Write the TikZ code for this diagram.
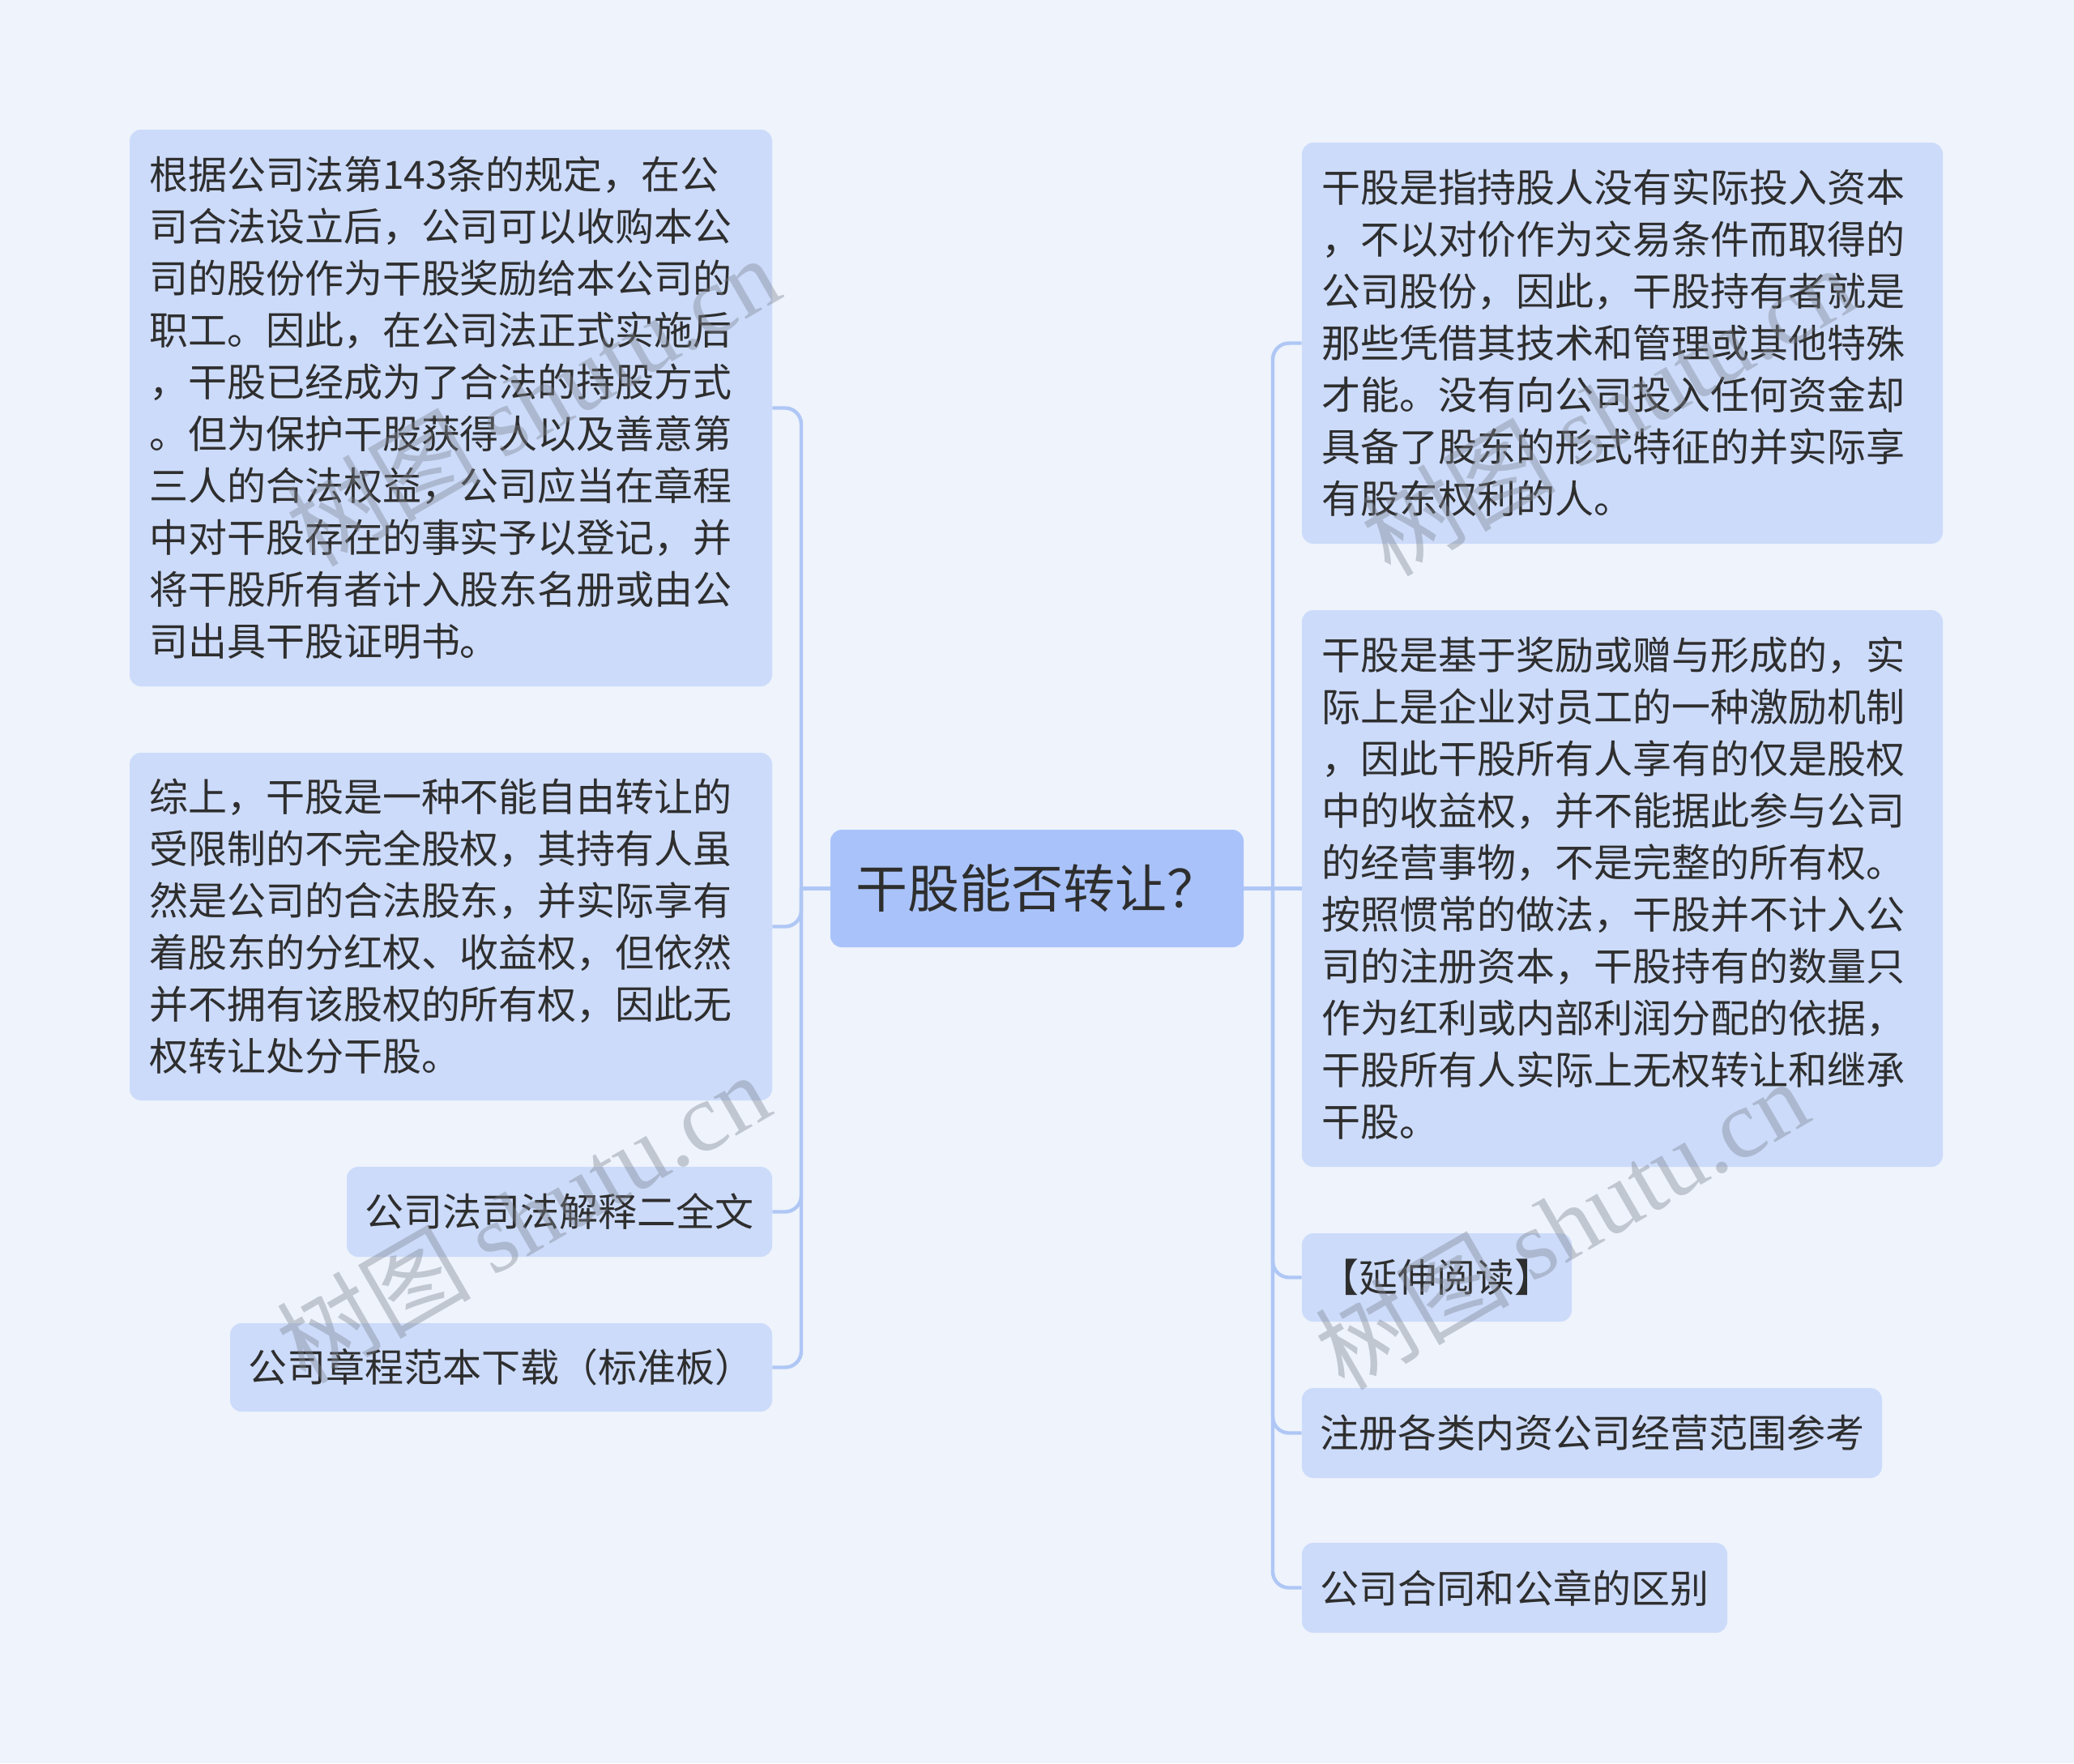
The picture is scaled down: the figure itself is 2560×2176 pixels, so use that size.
\documentclass[tikz,border=0pt]{standalone}
\usepackage{fontspec}
\setmainfont{Noto Sans CJK SC}
\newfontfamily\wmlatin{Liberation Serif}
\definecolor{bg}{HTML}{EEF3FC}
\definecolor{childfill}{HTML}{CCDBFA}
\definecolor{rootfill}{HTML}{A9C3FA}
\definecolor{linec}{HTML}{AFC7F5}
\definecolor{txt}{HTML}{2E2E2E}
\definecolor{wm}{HTML}{7E8590}
\begin{document}
\begin{tikzpicture}[x=0.5pt,y=-0.5pt,
  childbox/.style={fill=childfill, rounded corners=7pt, inner sep=0pt, text=txt,
    font=\fontsize{24pt}{32pt}\selectfont, align=left},
  rootbox/.style={fill=rootfill, rounded corners=7pt, inner sep=0pt, text=txt,
    font=\fontsize{32pt}{40pt}\selectfont},
  conn/.style={draw=linec, line width=2.2pt, rounded corners=10pt},
  wmark/.style={text=wm, opacity=0.4, rotate=30, inner sep=0pt,
    font=\fontsize{60pt}{60pt}\selectfont}]
\fill[bg] (0,0) rectangle (2560,2176);
\useasboundingbox (0,0) rectangle (2560,2176);

% root
\node[rootbox, minimum width=255pt, minimum height=72.5pt] (C) at (1280,1096.5) {干股能否转让？};

% left children
\node[childbox, minimum width=396.5pt, minimum height=343.5pt, text width=372.5pt] (L1) at (556.5,503.5)
{根据公司法第143条的规定，在公\\司合法设立后，公司可以收购本公\\司的股份作为干股奖励给本公司的\\职工。因此，在公司法正式实施后\\，干股已经成为了合法的持股方式\\。但为保护干股获得人以及善意第\\三人的合法权益，公司应当在章程\\中对干股存在的事实予以登记，并\\将干股所有者计入股东名册或由公\\司出具干股证明书。};
\node[childbox, minimum width=396.5pt, minimum height=214.5pt, text width=372.5pt] (L2) at (556.5,1143.5)
{综上，干股是一种不能自由转让的\\受限制的不完全股权，其持有人虽\\然是公司的合法股东，并实际享有\\着股东的分红权、收益权，但依然\\并不拥有该股权的所有权，因此无\\权转让处分干股。};
\node[childbox, minimum width=262.5pt, minimum height=55.5pt] (L3) at (690.5,1495.5) {公司法司法解释二全文};
\node[childbox, minimum width=334.5pt, minimum height=54.5pt] (L4) at (618.5,1687.5) {公司章程范本下载（标准板）};

% right children
\node[childbox, minimum width=395.5pt, minimum height=247.5pt, text width=371.5pt] (R1) at (2002.5,423.5)
{干股是指持股人没有实际投入资本\\，不以对价作为交易条件而取得的\\公司股份，因此，干股持有者就是\\那些凭借其技术和管理或其他特殊\\才能。没有向公司投入任何资金却\\具备了股东的形式特征的并实际享\\有股东权利的人。};
\node[childbox, minimum width=395.5pt, minimum height=343.5pt, text width=371.5pt] (R2) at (2002.5,1096.5)
{干股是基于奖励或赠与形成的，实\\际上是企业对员工的一种激励机制\\，因此干股所有人享有的仅是股权\\中的收益权，并不能据此参与公司\\的经营事物，不是完整的所有权。\\按照惯常的做法，干股并不计入公\\司的注册资本，干股持有的数量只\\作为红利或内部利润分配的依据，\\干股所有人实际上无权转让和继承\\干股。};
\node[childbox, minimum width=166.5pt, minimum height=54.5pt] (R3) at (1773.5,1576.5) {【延伸阅读】};
\node[childbox, minimum width=358pt, minimum height=55.5pt] (R4) at (1965,1768.5) {注册各类内资公司经营范围参考};
\node[childbox, minimum width=262.5pt, minimum height=55.5pt] (R5) at (1869.5,1959.5) {公司合同和公章的区别};

% connectors
\coordinate (bl) at (989,1096.5);
\coordinate (br) at (1571,1096.5);
\draw[conn] (C.west) -- (bl);
\draw[conn] (bl) |- (L1.east);
\draw[conn] (bl) |- (L2.east);
\draw[conn] (bl) |- (L3.east);
\draw[conn] (bl) |- (L4.east);
\draw[conn] (C.east) -- (R2.west);
\draw[conn] (br) |- (R1.west);
\draw[conn] (br) |- (R3.west);
\draw[conn] (br) |- (R4.west);
\draw[conn] (br) |- (R5.west);

% watermarks
\node[wmark] (w1) at (657,494) {树图 {\wmlatin shutu.cn}};
\node[wmark] (w2) at (645,1502) {树图 {\wmlatin shutu.cn}};
\node[wmark] (w3) at (1984,506) {树图 {\wmlatin shutu.cn}};
\node[wmark] (w4) at (1927,1510) {树图 {\wmlatin shutu.cn}};
\end{tikzpicture}
\end{document}
